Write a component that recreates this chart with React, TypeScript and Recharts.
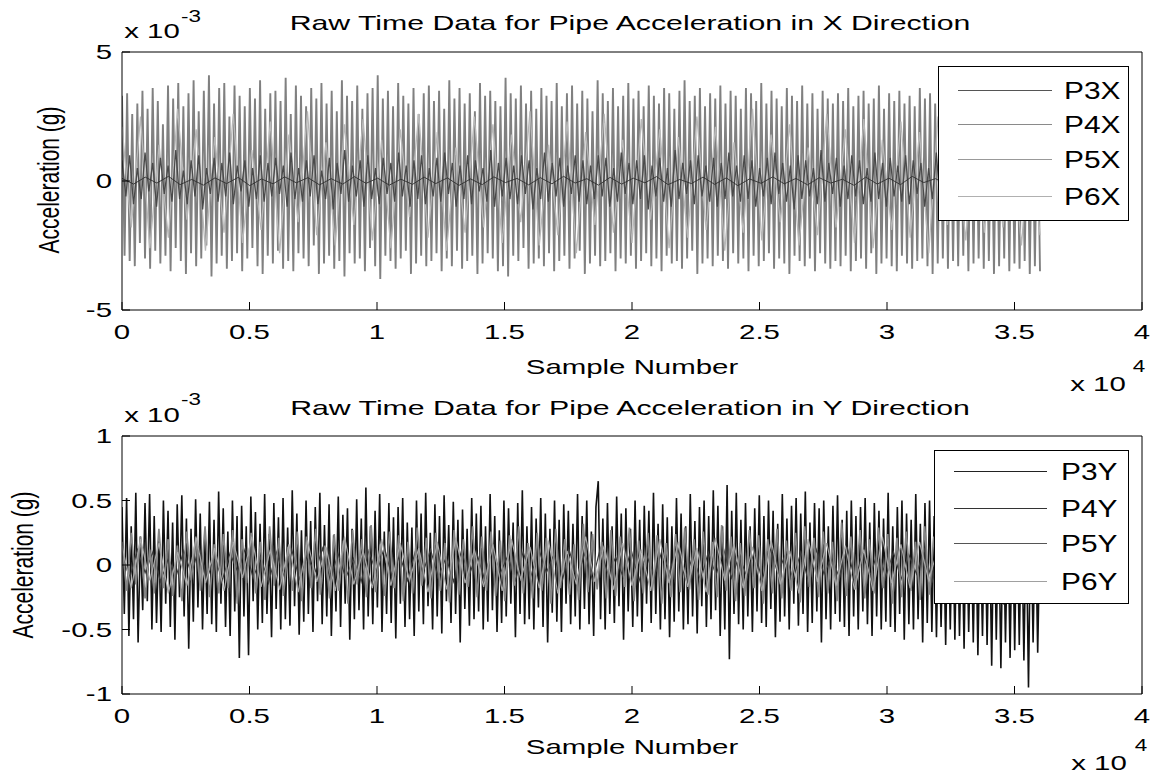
import React from 'react';
import { LineChart, Line, XAxis, YAxis } from 'recharts';

// ---------- axis ticks / labels ----------
const xTicks = [0, 5000, 10000, 15000, 20000, 25000, 30000, 35000, 40000];
const yTicksTop = [-5, 0, 5];
const yTicksBottom = [-1, -0.5, 0, 0.5, 1];
const LAST_SAMPLE = 36000;

const titleTop = 'Raw Time Data for Pipe Acceleration in X Direction';
const titleBottom = 'Raw Time Data for Pipe Acceleration in Y Direction';
const xLabel = 'Sample Number';
const yLabel = 'Acceleration (g)';

const legendTop = ['P3X', 'P4X', 'P5X', 'P6X'];
const legendBottom = ['P3Y', 'P4Y', 'P5Y', 'P6Y'];
const colorsTop = ['#303030', '#4a4a4a', '#808080', '#b8b8b8'];
const legendColorsTop = ['#555555', '#8a8a8a', '#999999', '#b0b0b0'];
const colorsBottom = ['#111111', '#3c3c3c', '#858585', '#a8a8a8'];
const legendColorsBottom = ['#222222', '#333333', '#555555', '#a0a0a0'];

// ---------- X direction (values in units of 1e-3 g) ----------
const p3x = [
  0.1, -0.12, 0.15, -0.08, 0.18, -0.14, 0.06, -0.16, 0.12, -0.1, 0.14, -0.18, 0.08, -0.11, 0.16, -0.07, 0.13, -0.15, 0.09, -0.12,
  0.17, -0.09, 0.11, -0.16, 0.07, -0.13, 0.15, -0.1, 0.12, -0.17, 0.08, -0.14, 0.16, -0.06, 0.1, -0.15, 0.13, -0.11, 0.18, -0.08,
  0.09, -0.16, 0.14, -0.12, 0.11, -0.07, 0.17, -0.14, 0.06, -0.1, 0.15, -0.13, 0.12, -0.18, 0.08, -0.09, 0.16, -0.11, 0.1, -0.15,
  0.13, -0.08, 0.07, -0.17, 0.15, -0.12, 0.11, -0.14, 0.18, -0.06, 0.09, -0.13, 0.14, -0.1, 0.12, -0.16, 0.08, -0.11, 0.16, -0.09,
];

const p4x = [
  0.8, -0.6, 1.0, -0.9, 0.5, -0.7, 1.1, -0.4, 0.7, -1.0, 0.9, -0.5, 0.6, -0.8, 1.2, -0.7, 0.4, -0.9, 0.8, -0.6, 1.0, -1.1, 0.5, -0.5, 0.9, -0.8, 0.7, -0.6, 1.1, -0.9, 0.6, -0.4, 0.8, -1.0, 0.5, -0.7, 1.0, -0.8, 0.7, -0.6,
  0.9, -0.5, 0.6, -1.0, 1.1, -0.7, 0.5, -0.8, 0.8, -0.6, 1.0, -0.9, 0.4, -0.7, 0.9, -1.1, 0.7, -0.5, 1.2, -0.8, 0.6, -0.6, 0.8, -1.0, 1.0, -0.7, 0.5, -0.9, 0.9, -0.5, 0.7, -0.8, 1.1, -0.6, 0.6, -1.0, 0.8, -0.7, 1.0, -0.9,
  0.5, -0.6, 0.9, -0.8, 1.1, -0.5, 0.7, -1.0, 0.6, -0.7, 1.0, -0.9, 0.8, -0.4, 0.5, -0.8, 1.2, -1.0, 0.7, -0.6, 0.9, -0.7, 0.6, -0.9, 1.0, -0.5, 0.8, -1.1, 0.5, -0.7, 1.1, -0.8, 0.7, -0.6, 0.9, -1.0, 0.6, -0.5, 1.0, -0.8,
  0.8, -0.9, 0.6, -0.7, 1.0, -0.6, 0.9, -1.0, 0.5, -0.8, 1.1, -0.5, 0.7, -0.9, 0.8, -0.7, 1.0, -1.1, 0.6, -0.6, 0.9, -0.8, 0.5, -1.0, 1.2, -0.7, 0.7, -0.5, 0.8, -0.9, 1.0, -0.6, 0.6, -0.8, 0.9, -1.0, 0.7, -0.7, 1.1, -0.6,
  0.6, -0.8, 1.0, -0.7, 0.8, -1.0, 0.5, -0.6, 0.9, -0.9, 1.1, -0.5, 0.7, -0.8, 0.6, -1.1, 1.0, -0.7, 0.8, -0.6, 0.5, -0.9, 1.2, -0.8, 0.7, -0.5, 0.9, -1.0, 0.6, -0.7, 1.0, -0.6, 0.8, -0.9, 0.5, -0.8, 1.1, -0.7, 0.7, -1.0,
  0.9, -0.6, 0.6, -0.8, 1.0, -0.9, 0.8, -0.5, 0.7, -1.0, 0.5, -0.7, 1.1, -0.8, 0.9, -0.6, 0.6, -1.1, 1.0, -0.7, 0.8, -0.9, 0.7, -0.5, 1.0, -0.8, 0.6, -1.0, 0.9, -0.6, 1.1, -0.7, 0.5, -0.9, 0.8, -0.8, 1.0, -0.6, 0.7, -0.9,
];

const p5x = [
  3.3, -2.9, 3.4, -3.1, 2.6, -3.3, 3.0, -2.4, 3.5, -3.0, 2.8, -3.4, 3.6, -2.7, 3.1, -3.2, 2.2, -2.9, 3.7, -3.5, 3.2, -2.6, 3.8, -3.1, 2.9, -3.6, 3.4, -2.8, 3.9, -3.3, 2.7, -3.0, 3.5, -2.5, 4.1, -3.7, 3.0, -3.2, 3.6, -2.9,
  3.8, -3.4, 2.5, -3.1, 3.7, -2.8, 3.3, -3.5, 2.9, -3.0, 3.6, -2.6, 3.2, -3.3, 3.9, -3.6, 2.8, -2.9, 3.4, -3.2, 3.5, -2.7, 3.1, -3.4, 4.0, -3.1, 2.6, -3.5, 3.7, -2.8, 3.3, -3.0, 2.9, -3.3, 3.6, -2.5, 3.2, -3.6, 3.8, -3.2,
  3.0, -2.9, 3.5, -3.4, 2.7, -3.1, 3.9, -3.7, 3.3, -2.8, 3.1, -3.2, 3.7, -3.0, 2.8, -3.5, 3.4, -2.6, 3.6, -3.3, 4.1, -3.8, 3.2, -2.9, 3.5, -3.1, 2.9, -3.4, 3.8, -3.0, 3.3, -2.7, 3.0, -3.6, 3.6, -3.2, 2.6, -2.9, 3.4, -3.3,
  3.7, -3.1, 3.1, -2.8, 3.5, -3.5, 2.8, -3.0, 3.9, -3.3, 3.2, -2.7, 3.6, -3.4, 3.0, -3.1, 3.4, -2.9, 2.7, -3.6, 3.8, -3.2, 3.3, -2.8, 3.5, -3.0, 3.1, -3.5, 2.9, -3.3, 4.0, -3.7, 3.4, -2.9, 3.2, -3.1, 3.7, -2.6, 3.0, -3.4,
  3.5, -3.2, 2.8, -3.0, 3.6, -3.3, 3.3, -2.8, 3.1, -3.5, 3.8, -3.1, 2.9, -2.9, 3.4, -3.4, 3.7, -3.0, 3.0, -2.7, 3.5, -3.6, 3.2, -3.2, 2.7, -2.9, 3.9, -3.3, 3.4, -3.1, 3.1, -2.8, 3.6, -3.5, 2.9, -3.0, 3.3, -3.2, 3.8, -2.9,
  3.2, -3.4, 3.5, -3.1, 2.9, -2.8, 3.7, -3.3, 3.3, -3.0, 3.0, -3.5, 3.6, -2.9, 3.4, -3.2, 2.8, -3.1, 3.5, -3.4, 3.9, -3.0, 3.1, -2.7, 3.3, -3.6, 3.6, -3.2, 2.9, -3.0, 3.4, -3.3, 3.2, -2.9, 3.7, -3.1, 3.0, -3.4, 3.5, -2.8,
  3.3, -3.2, 2.8, -3.0, 3.6, -3.5, 3.4, -2.9, 3.1, -3.3, 3.8, -3.1, 3.0, -2.8, 3.5, -3.4, 3.2, -3.0, 2.9, -3.2, 3.6, -3.6, 3.3, -2.9, 3.1, -3.1, 3.7, -3.3, 3.0, -3.0, 3.4, -3.5, 2.8, -2.8, 3.5, -3.2, 3.2, -3.4, 3.0, -3.1,
  3.4, -3.3, 3.1, -2.9, 3.6, -3.5, 2.9, -3.1, 3.3, -3.0, 3.5, -3.4, 3.0, -2.8, 3.2, -3.6, 3.7, -3.2, 2.8, -3.0, 3.4, -3.3, 3.1, -3.5, 3.5, -2.9, 3.0, -3.2, 3.3, -3.4, 2.9, -3.1, 3.6, -3.0, 3.2, -3.3, 3.4, -3.6, 3.0, -3.2,
  3.3, -3.0, 2.9, -3.4, 3.5, -3.1, 3.1, -3.3, 3.4, -2.9, 3.0, -3.5, 3.2, -3.2, 3.6, -3.0, 2.8, -3.4, 3.3, -3.1, 3.1, -3.6, 3.5, -3.3, 2.9, -3.0, 3.2, -3.5, 3.4, -3.2, 3.0, -3.4, 3.3, -3.1, 2.8, -3.6, 3.1, -3.3, 3.2, -3.5,
];

const p6x = [
  2.1, -1.8, 2.5, -2.6, 1.4, -2.2, 2.8, -1.5, 2.0, -2.7, 1.7, -2.0, 2.6, -2.4, 1.2, -1.9, 2.3, -2.8, 1.8, -1.6,
  2.7, -2.1, 1.5, -2.5, 2.2, -1.7, 2.4, -2.3, 1.6, -2.6, 2.0, -1.4, 2.6, -2.2, 1.9, -2.7, 1.3, -2.0, 2.5, -1.8,
  2.2, -2.4, 1.8, -1.6, 2.7, -2.5, 1.4, -2.1, 2.3, -2.8, 1.9, -1.7, 2.6, -2.0, 1.6, -2.4, 2.4, -1.5, 2.0, -2.6,
  1.7, -2.2, 2.5, -1.9, 2.1, -2.7, 1.5, -2.0, 2.8, -2.3, 1.8, -1.6, 2.2, -2.5, 1.3, -2.1, 2.6, -1.8, 2.0, -2.4,
  2.4, -2.6, 1.6, -1.9, 2.3, -2.2, 1.9, -2.8, 2.5, -1.7, 1.4, -2.3, 2.7, -2.0, 2.1, -1.8, 1.7, -2.5, 2.2, -2.1,
];

// ---------- Y direction (values in units of 1e-3 g) ----------
const p3y = [
  0.45, -0.38, 0.52, -0.55, 0.3, -0.42, 0.56, -0.6, 0.22, -0.35, 0.48, -0.28, 0.55, -0.5, 0.38, -0.45, 0.2, -0.52, 0.5, -0.3, 0.42, -0.48, 0.33, -0.58, 0.47, -0.25, 0.54, -0.4, 0.36, -0.65, 0.28, -0.44, 0.51, -0.33, 0.4, -0.5, 0.25, -0.38, 0.49, -0.46,
  0.35, -0.52, 0.57, -0.3, 0.44, -0.48, 0.26, -0.55, 0.5, -0.36, 0.38, -0.72, 0.46, -0.4, 0.3, -0.7, 0.53, -0.28, 0.41, -0.5, 0.32, -0.45, 0.55, -0.38, 0.24, -0.56, 0.48, -0.34, 0.37, -0.5, 0.52, -0.42, 0.29, -0.47, 0.58, -0.32, 0.4, -0.54, 0.27, -0.44,
  0.5, -0.38, 0.34, -0.52, 0.45, -0.28, 0.56, -0.46, 0.31, -0.4, 0.47, -0.55, 0.23, -0.36, 0.53, -0.48, 0.39, -0.3, 0.44, -0.58, 0.28, -0.42, 0.51, -0.35, 0.36, -0.5, 0.6, -0.4, 0.3, -0.46, 0.42, -0.33, 0.55, -0.52, 0.26, -0.38, 0.48, -0.45, 0.37, -0.57,
  0.45, -0.3, 0.52, -0.48, 0.33, -0.42, 0.29, -0.55, 0.5, -0.36, 0.4, -0.46, 0.56, -0.32, 0.25, -0.5, 0.47, -0.4, 0.38, -0.53, 0.54, -0.28, 0.31, -0.45, 0.49, -0.38, 0.35, -0.6, 0.43, -0.34, 0.28, -0.47, 0.52, -0.42, 0.4, -0.36, 0.46, -0.5, 0.3, -0.44,
  0.55, -0.35, 0.38, -0.52, 0.27, -0.45, 0.5, -0.4, 0.44, -0.3, 0.33, -0.56, 0.48, -0.38, 0.58, -0.46, 0.3, -0.42, 0.45, -0.5, 0.36, -0.33, 0.52, -0.48, 0.4, -0.6, 0.28, -0.37, 0.5, -0.44, 0.35, -0.52, 0.47, -0.3, 0.42, -0.46, 0.32, -0.4, 0.55, -0.5,
  0.38, -0.34, 0.5, -0.46, 0.26, -0.55, 0.45, 0.65, -0.42, 0.36, -0.5, 0.48, -0.38, 0.3, -0.45, 0.53, -0.32, 0.4, -0.58, 0.44, -0.36, 0.28, -0.48, 0.5, -0.4, 0.35, -0.52, 0.46, -0.3, 0.42, -0.45, 0.56, -0.38, 0.32, -0.5, 0.47, -0.42, 0.37, -0.56, 0.3,
  -0.44, 0.52, -0.36, 0.4, -0.5, 0.3, -0.46, 0.55, -0.4, 0.34, -0.53, 0.45, -0.32, 0.5, -0.48, 0.38, -0.42, 0.58, -0.35, 0.46, -0.55, 0.3, -0.5, 0.62, -0.73, 0.42, -0.38, 0.56, -0.46, 0.35, -0.5, 0.48, -0.4, 0.3, -0.52, 0.44, -0.36, 0.54, -0.45, 0.38,
  -0.48, 0.5, -0.34, 0.42, -0.56, 0.32, -0.44, 0.55, -0.4, 0.36, -0.5, 0.46, -0.3, 0.52, -0.47, 0.4, -0.38, 0.57, -0.52, 0.33, -0.45, 0.48, -0.36, 0.44, -0.6, 0.5, -0.42, 0.3, -0.5, 0.46, -0.38, 0.54, -0.44, 0.35, -0.48, 0.42, -0.55, 0.5, -0.4, 0.38,
  -0.5, 0.45, -0.36, 0.52, -0.46, 0.33, -0.55, 0.48, -0.4, 0.42, -0.5, 0.36, -0.44, 0.56, -0.48, 0.3, -0.52, 0.45, -0.38, 0.5, -0.58, 0.4, -0.46, 0.35, -0.5, 0.55, -0.42, 0.32, -0.6, 0.48, -0.45, 0.5, -0.52, 0.38, -0.56, 0.44, -0.48, 0.36, -0.62, 0.5,
  -0.5, 0.42, -0.58, 0.46, -0.55, 0.38, -0.65, 0.5, -0.52, 0.4, -0.6, 0.45, -0.7, 0.36, -0.55, 0.48, -0.62, 0.42, -0.78, 0.5, -0.58, 0.4, -0.8, 0.46, -0.6, 0.38, -0.72, 0.44, -0.66, 0.5, -0.62, 0.4, -0.74, 0.36, -0.95, 0.45, -0.6, 0.42, -0.68, 0.3,
];

const p4y = [
  0.08, -0.1, 0.12, -0.06, 0.1, -0.13, 0.05, -0.09, 0.11, -0.07, 0.14, -0.11, 0.07, -0.12, 0.09, -0.05, 0.13, -0.1, 0.06, -0.14,
  0.1, -0.08, 0.12, -0.11, 0.07, -0.06, 0.13, -0.12, 0.09, -0.1, 0.05, -0.13, 0.11, -0.07, 0.14, -0.09, 0.08, -0.12, 0.1, -0.06,
  0.12, -0.1, 0.06, -0.13, 0.11, -0.08, 0.09, -0.11, 0.14, -0.07, 0.07, -0.12, 0.1, -0.09, 0.13, -0.06, 0.08, -0.14, 0.11, -0.1,
  0.09, -0.12, 0.13, -0.07, 0.06, -0.1, 0.12, -0.13, 0.08, -0.09, 0.11, -0.06, 0.14, -0.11, 0.07, -0.12, 0.1, -0.08, 0.12, -0.1,
  0.07, -0.09, 0.11, -0.12, 0.13, -0.06, 0.08, -0.11, 0.1, -0.13, 0.12, -0.07, 0.06, -0.1, 0.14, -0.12, 0.09, -0.08, 0.11, -0.09,
  0.1, -0.11, 0.08, -0.07, 0.12, -0.13, 0.07, -0.1, 0.13, -0.06, 0.09, -0.12, 0.11, -0.08, 0.06, -0.11, 0.12, -0.09, 0.1, -0.07,
];

const p5y = [
  0.18, -0.2, 0.25, -0.15, 0.22, -0.26, 0.12, -0.22, 0.28, -0.18, 0.2, -0.24, 0.15, -0.28, 0.26, -0.12, 0.22, -0.2, 0.3, -0.25, 0.16, -0.22, 0.24, -0.18, 0.27, -0.3, 0.2, -0.14, 0.25, -0.22, 0.18, -0.27, 0.3, -0.16, 0.21, -0.24, 0.14, -0.2, 0.26, -0.28,
  0.22, -0.18, 0.28, -0.23, 0.15, -0.26, 0.24, -0.2, 0.19, -0.3, 0.27, -0.15, 0.2, -0.25, 0.31, -0.21, 0.16, -0.24, 0.26, -0.18, 0.23, -0.28, 0.18, -0.22, 0.29, -0.16, 0.21, -0.26, 0.25, -0.2, 0.17, -0.29, 0.27, -0.23, 0.2, -0.17, 0.3, -0.25, 0.22, -0.2,
  0.26, -0.24, 0.19, -0.28, 0.23, -0.16, 0.3, -0.22, 0.17, -0.26, 0.25, -0.2, 0.21, -0.3, 0.28, -0.18, 0.2, -0.23, 0.16, -0.27, 0.32, -0.21, 0.24, -0.19, 0.18, -0.26, 0.27, -0.24, 0.22, -0.17, 0.29, -0.28, 0.19, -0.22, 0.25, -0.2, 0.23, -0.3, 0.17, -0.25,
  0.24, -0.21, 0.29, -0.19, 0.2, -0.27, 0.26, -0.23, 0.18, -0.25, 0.31, -0.2, 0.22, -0.28, 0.17, -0.24, 0.27, -0.18, 0.23, -0.3, 0.2, -0.22, 0.28, -0.26, 0.19, -0.2, 0.25, -0.29, 0.3, -0.17, 0.21, -0.25, 0.26, -0.22, 0.18, -0.28, 0.33, -0.24, 0.22, -0.19,
  0.27, -0.26, 0.2, -0.22, 0.29, -0.18, 0.24, -0.3, 0.21, -0.25, 0.26, -0.2, 0.18, -0.27, 0.3, -0.23, 0.22, -0.19, 0.28, -0.26, 0.19, -0.24, 0.25, -0.21, 0.32, -0.28, 0.23, -0.2, 0.27, -0.25, 0.2, -0.31, 0.26, -0.22, 0.24, -0.27, 0.21, -0.23, 0.28, -0.26,
];

const p6y = [
  0.15, -0.18, 0.2, -0.12, 0.17, -0.22, 0.1, -0.16, 0.21, -0.14, 0.13, -0.2, 0.18, -0.1, 0.22, -0.17, 0.12, -0.19, 0.16, -0.21,
  0.19, -0.13, 0.14, -0.2, 0.22, -0.15, 0.11, -0.18, 0.2, -0.16, 0.17, -0.12, 0.13, -0.21, 0.18, -0.19, 0.21, -0.14, 0.12, -0.17,
  0.16, -0.2, 0.2, -0.11, 0.14, -0.18, 0.19, -0.22, 0.11, -0.15, 0.22, -0.13, 0.15, -0.19, 0.17, -0.16, 0.12, -0.2, 0.2, -0.14,
  0.18, -0.17, 0.13, -0.21, 0.21, -0.12, 0.16, -0.18, 0.14, -0.2, 0.19, -0.15, 0.11, -0.22, 0.2, -0.13, 0.17, -0.16, 0.15, -0.19,
  0.12, -0.2, 0.22, -0.14, 0.16, -0.18, 0.18, -0.12, 0.13, -0.21, 0.2, -0.16, 0.15, -0.17, 0.21, -0.13, 0.14, -0.19, 0.17, -0.15,
];

const seriesTop = [p3x, p4x, p5x, p6x];
const seriesBottom = [p3y, p4y, p5y, p6y];

// samples are evenly spread from 0 to the last recorded sample
function toPoints(vals: number[]) {
  return vals.map((v, i) => ({ x: (i * LAST_SAMPLE) / (vals.length - 1), v }));
}

const FONT = '"Liberation Sans", Arial, Helvetica, sans-serif';
const SX = 1.4;

const XTick = (props: any) => {
  const { x, y, payload } = props;
  return (
    <text x={0} y={0} transform={`translate(${x},${y}) scale(${SX},1)`} textAnchor="middle"
      dominantBaseline="central" fontSize={21} fontFamily={FONT} fill="#000">
      {String(payload.value / 10000)}
    </text>
  );
};

const YTick = (props: any) => {
  const { x, y, payload } = props;
  return (
    <text x={0} y={0} transform={`translate(${x},${y}) scale(${SX},1)`} textAnchor="end"
      dominantBaseline="central" fontSize={21} fontFamily={FONT} fill="#000">
      {String(payload.value)}
    </text>
  );
};

function T({ x, y, children, size = 21, anchor = 'middle', rotate = false, sx = SX }: any) {
  const base: React.CSSProperties = {
    position: 'absolute', left: x, top: y, fontSize: size, fontFamily: FONT, lineHeight: 1,
    whiteSpace: 'nowrap', color: '#000', zIndex: 3,
  };
  if (rotate) {
    base.transform = `translate(-50%,-50%) rotate(-90deg) scaleY(${sx})`;
    base.transformOrigin = 'center center';
  } else if (anchor === 'start') {
    base.transform = `translateY(-50%) scaleX(${sx})`;
    base.transformOrigin = 'left center';
  } else {
    base.transform = `translate(-50%,-50%) scaleX(${sx})`;
    base.transformOrigin = 'center center';
  }
  return <div style={base}>{children}</div>;
}

function LegendBox({ left, top, width, height, names, colors, rows, lineX1, lineX2, textX }: any) {
  return (
    <div style={{ position: 'absolute', left, top, width, height, background: '#fff', border: '1px solid #000', boxSizing: 'border-box', zIndex: 2 }}>
      {names.map((n: string, i: number) => (
        <React.Fragment key={n}>
          <div style={{ position: 'absolute', left: lineX1, top: rows[i], width: lineX2 - lineX1, height: 1, background: colors[i] }} />
          <T x={textX} y={rows[i] + 0.5} size={23} anchor="start" sx={1.3}>{n}</T>
        </React.Fragment>
      ))}
    </div>
  );
}

function Panel({ series, colors, widths, order, yTicks, yDomain, height, marginTop, marginBottom }: any) {
  return (
    <LineChart width={1157} height={height} margin={{ top: marginTop, right: 14, bottom: marginBottom, left: 0 }}>
      <XAxis dataKey="x" type="number" domain={[0, 40000]} ticks={xTicks} interval={0}
        allowDataOverflow height={30} tickSize={-8} tickMargin={30} tick={<XTick />}
        stroke="#000" axisLine={{ stroke: '#000' }} tickLine={{ stroke: '#000' }} />
      <XAxis xAxisId="t" orientation="top" dataKey="x" type="number" domain={[0, 40000]} ticks={xTicks}
        interval={0} allowDataOverflow height={1} tickSize={-8} tick={false}
        axisLine={{ stroke: '#000' }} tickLine={{ stroke: '#000' }} />
      <YAxis type="number" domain={yDomain} ticks={yTicks} interval={0} allowDataOverflow width={122}
        tickSize={-8} tickMargin={18} tick={<YTick />} axisLine={{ stroke: '#000' }} tickLine={{ stroke: '#000' }} />
      <YAxis yAxisId="r" orientation="right" type="number" domain={yDomain} ticks={yTicks} interval={0}
        allowDataOverflow width={1} tickSize={-8} tick={false} axisLine={{ stroke: '#000' }} tickLine={{ stroke: '#000' }} />
      {order.map((i: number) => (
        <Line key={i} data={toPoints(series[i])} dataKey="v" stroke={colors[i]} strokeWidth={widths[i]} dot={false}
          activeDot={false} isAnimationActive={false} />
      ))}
    </LineChart>
  );
}

export default function App() {
  return (
    <div style={{ position: 'absolute', left: 0, top: 0, width: 1157, height: 778, overflow: 'hidden', background: '#fff' }}>
      <div style={{ position: 'absolute', left: 0, top: 0 }}>
        <Panel series={seriesTop} colors={colorsTop} widths={[0.9, 1.3, 1.9, 1.3]} order={[2, 3, 1, 0]}
          yTicks={yTicksTop} yDomain={[-5, 5]} height={384} marginTop={51} marginBottom={44} />
      </div>
      <div style={{ position: 'absolute', left: 0, top: 384 }}>
        <Panel series={seriesBottom} colors={colorsBottom} widths={[1.6, 1.2, 1.7, 1.2]} order={[0, 1, 2, 3]}
          yTicks={yTicksBottom} yDomain={[-1, 1]} height={394} marginTop={51} marginBottom={54} />
      </div>

      {/* top panel texts */}
      <T x={630} y={22} sx={1.44}>{titleTop}</T>
      <T x={152} y={30}>x 10</T>
      <T x={191} y={17} size={16}>-3</T>
      <T x={48} y={180} rotate>{yLabel}</T>
      <T x={632} y={366}>{xLabel}</T>
      <T x={1098} y={383}>x 10</T>
      <T x={1139} y={367} size={16}>4</T>
      <LegendBox left={938} top={66} width={191} height={155} names={legendTop} colors={legendColorsTop}
        rows={[23, 57, 92, 129]} lineX1={19} lineX2={113} textX={125} />

      {/* bottom panel texts */}
      <T x={630} y={407} sx={1.44}>{titleBottom}</T>
      <T x={152} y={414}>x 10</T>
      <T x={191} y={400} size={16}>-3</T>
      <T x={22} y={565} rotate>{yLabel}</T>
      <T x={632} y={746}>{xLabel}</T>
      <T x={1099} y={762}>x 10</T>
      <T x={1141} y={746} size={16}>4</T>
      <LegendBox left={934} top={450} width={195} height={154} names={legendBottom} colors={legendColorsBottom}
        rows={[20, 57, 92, 130]} lineX1={19} lineX2={112} textX={126} />
    </div>
  );
}
